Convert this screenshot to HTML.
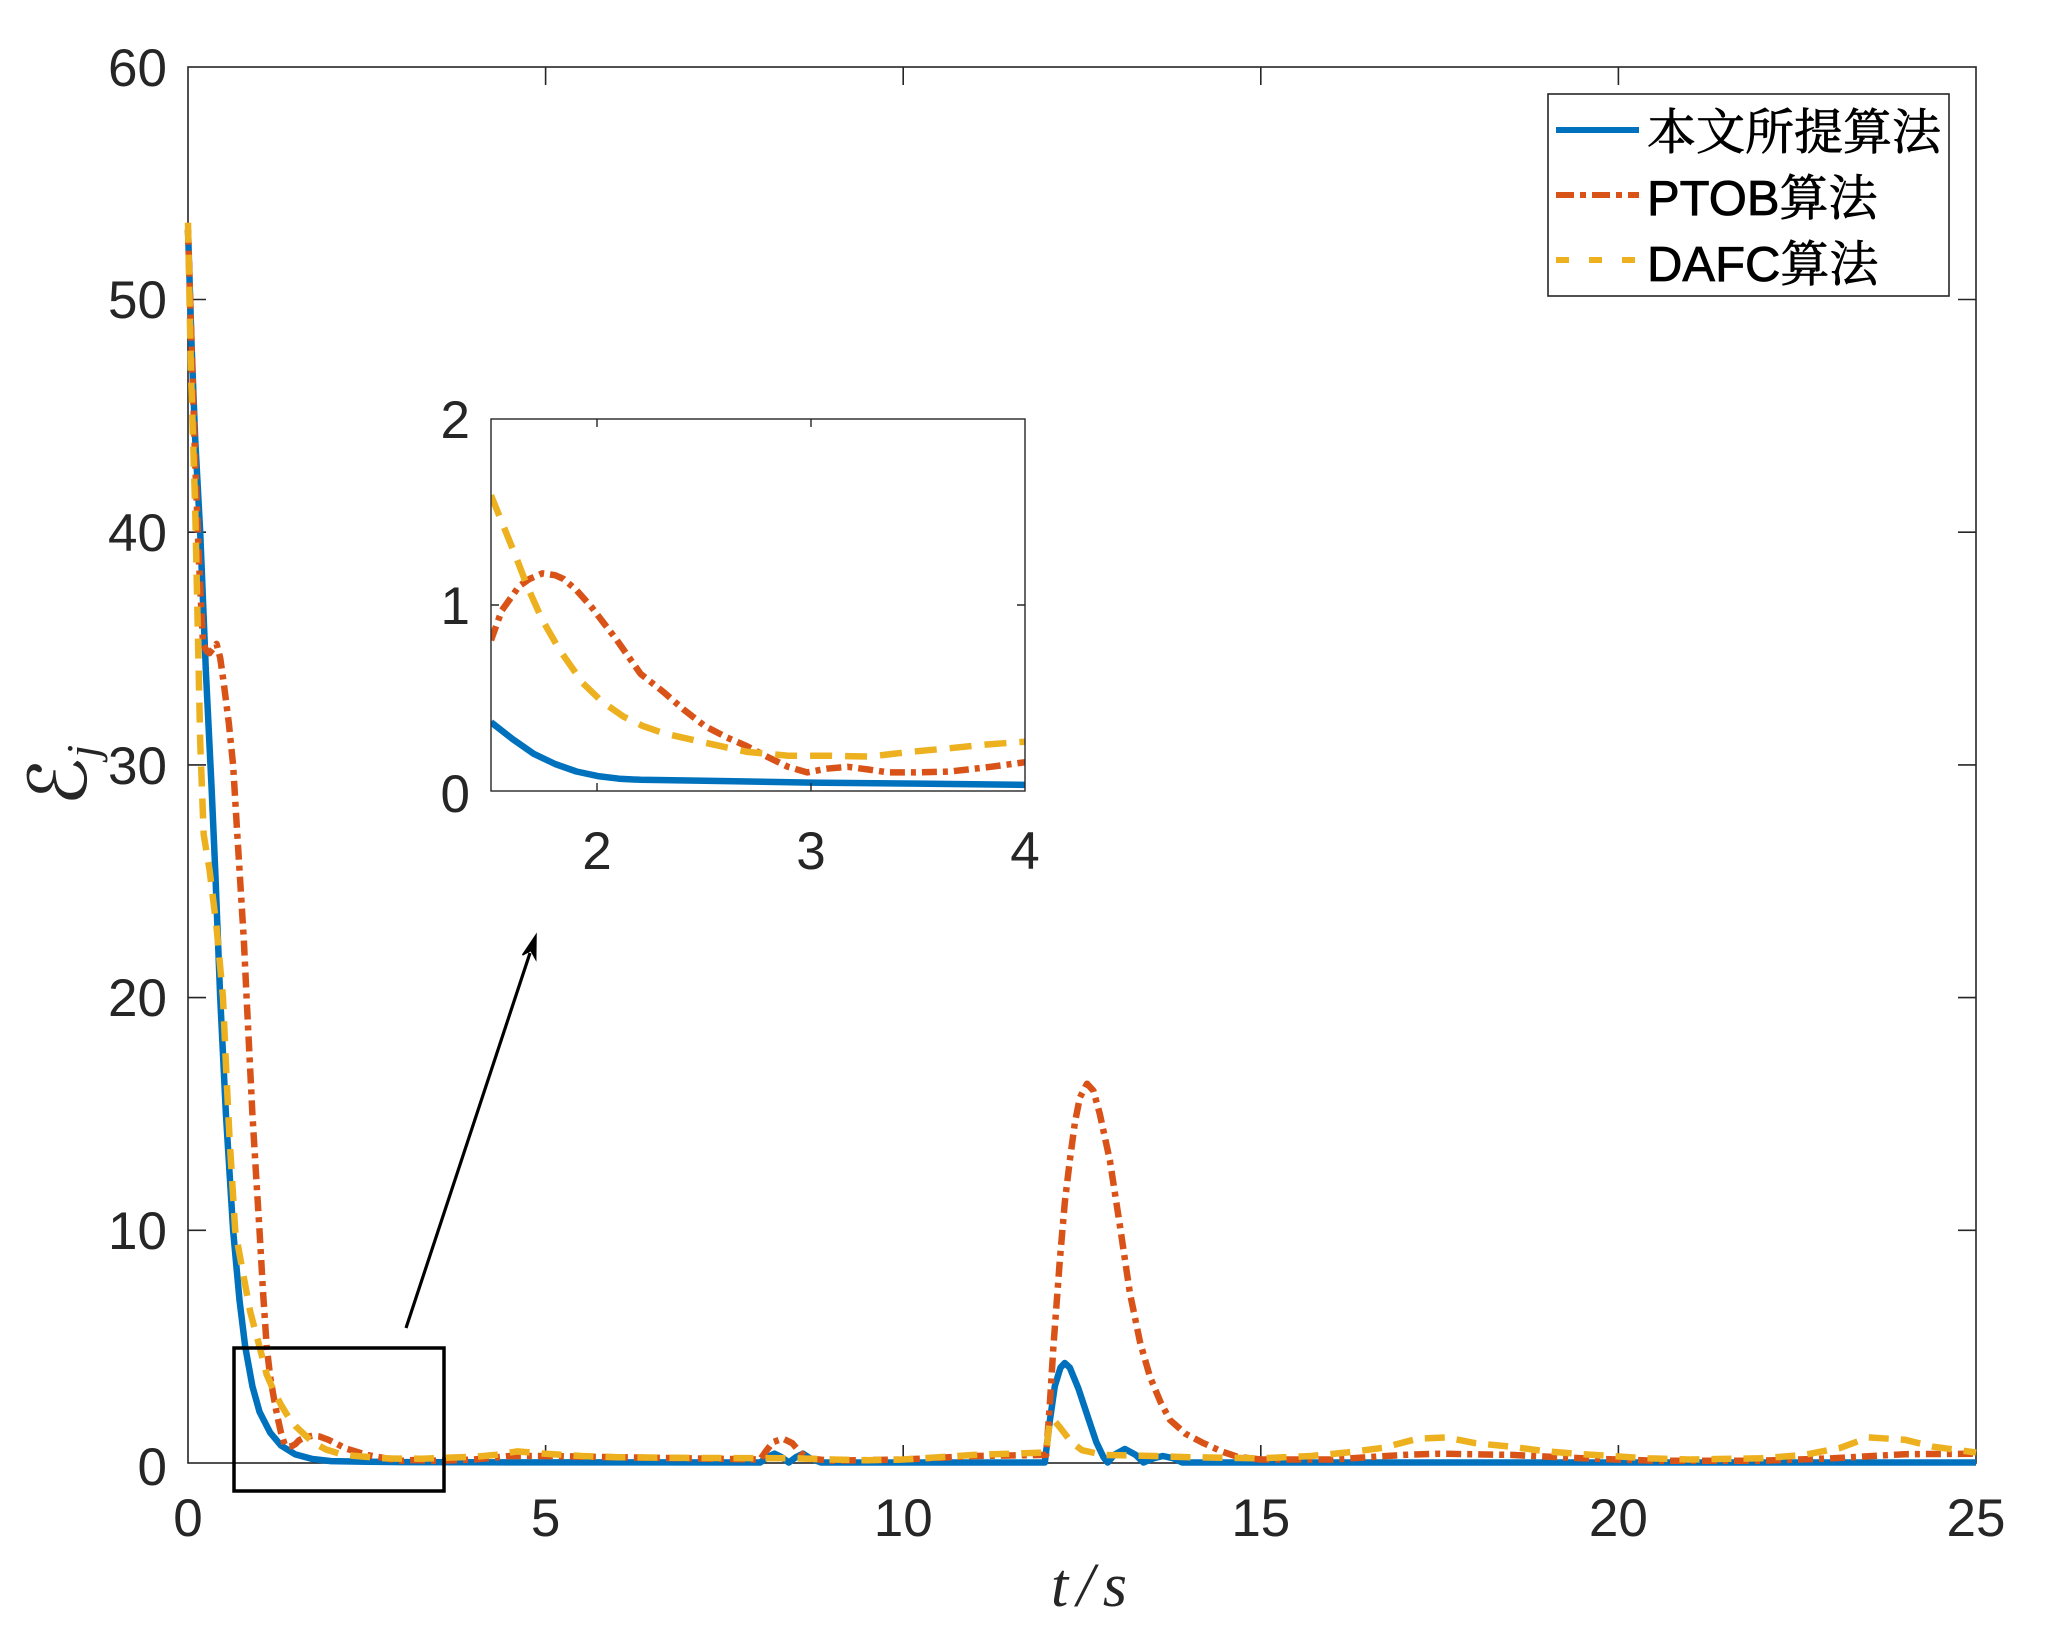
<!DOCTYPE html>
<html>
<head>
<meta charset="utf-8">
<style>
html,body{margin:0;padding:0;background:#fff;}
svg{display:block;}
</style>
</head>
<body>
<svg xmlns="http://www.w3.org/2000/svg" width="2048" height="1625" viewBox="0 0 2048 1625">
<defs>
<clipPath id="ci"><rect x="491" y="414" width="534" height="382"/></clipPath>
</defs>
<rect x="0" y="0" width="2048" height="1625" fill="#fff"/>

<!-- main axes box -->
<g stroke="#262626" stroke-width="1.6" fill="none">
<rect x="188" y="67" width="1788" height="1396"/>
<path d="M545.6,1463V1445M903.2,1463V1445M1260.8,1463V1445M1618.4,1463V1445
M545.6,67V85M903.2,67V85M1260.8,67V85M1618.4,67V85
M188,299.5H206M188,532.2H206M188,764.9H206M188,997.6H206M188,1230.3H206
M1976,299.5H1958M1976,532.2H1958M1976,764.9H1958M1976,997.6H1958M1976,1230.3H1958"/>
</g>

<!-- main tick labels -->
<g font-family="Liberation Sans, Arial, sans-serif" font-size="53" fill="#262626">
<g text-anchor="end">
<text x="167" y="86">60</text>
<text x="167" y="318">50</text>
<text x="167" y="551">40</text>
<text x="167" y="784">30</text>
<text x="167" y="1016">20</text>
<text x="167" y="1249">10</text>
<text x="167" y="1485">0</text>
</g>
<g text-anchor="middle">
<text x="188" y="1536">0</text>
<text x="545.6" y="1536">5</text>
<text x="903.2" y="1536">10</text>
<text x="1260.8" y="1536">15</text>
<text x="1618.4" y="1536">20</text>
<text x="1976" y="1536">25</text>
</g>
</g>

<!-- axis labels -->
<text transform="translate(86,806) rotate(-90)" font-family="DejaVu Sans, DejaVu Serif, serif" font-size="80" fill="#262626">ℰ<tspan font-family="Liberation Serif, serif" font-style="italic" font-size="46" dy="12">j</tspan></text>
<text x="1051" y="1606" font-family="Liberation Serif, serif" font-style="italic" font-size="62" fill="#262626" textLength="76" lengthAdjust="spacing">t/s</text>

<!-- main series -->
<g fill="none" stroke-width="6.5" stroke-linejoin="round">
<path stroke="#0072BD" d="M188,229.7 L191.6,346.0 L195.2,439.1 L200.2,532.2 L205.9,671.8 L211.6,788.2 L215.2,869.6 L220.2,997.6 L225.9,1114 L233.1,1230.3 L239.5,1300.1 L245.2,1346.6 L252.4,1386.2 L259.5,1411.8 L270.2,1432.7 L281.0,1445.5 L295.3,1454.4 L312.4,1459.0 L331.0,1461.1 L366.8,1461.8 L402.6,1462.1 L474.1,1462.3 L760.2,1462.5 L767.3,1457.2 L774.5,1453.7 L781.6,1457.2 L788.8,1462.5 L795.9,1457.2 L803.1,1453.7 L810.2,1458.3 L821.0,1462.5 L1044.8,1462.5 L1049.8,1421.1 L1054.8,1386.2 L1060.5,1367.6 L1064.8,1363.0 L1069.8,1367.6 L1078.4,1388.5 L1087.7,1416.5 L1096.3,1442.1 L1103.5,1457.2 L1107.7,1462.5 L1114.2,1454.9 L1124.9,1449.0 L1135.7,1454.9 L1143.5,1462.5 L1153.5,1458.3 L1162.8,1456.0 L1173.5,1458.3 L1182.1,1462.5 L1976,1462.5"/>
<path stroke="#D95319" stroke-dasharray="15 6 5 6" d="M188,229.7 L191.6,346.0 L195.2,462.4 L198.7,555.5 L203.0,643.9 L206.6,650.9 L209.5,653.2 L213.0,648.6 L216.6,643.9 L220.2,657.9 L223.8,683.5 L228.8,723.0 L233.1,764.9 L236.6,823.1 L240.2,881.3 L243.8,939.4 L246.6,997.6 L249.5,1055.8 L252.4,1114.0 L255.9,1172.1 L259.5,1230.3 L263.1,1293.1 L266.7,1346.6 L270.2,1376.9 L273.8,1397.8 L277.4,1416.5 L281.0,1432.7 L284.6,1444.4 L286.7,1446.7 L291.7,1446.2 L295.3,1444.2 L298.9,1440.4 L304.6,1437.4 L312.4,1435.8 L319.6,1436.5 L328.9,1440.0 L337.5,1444.2 L345.3,1448.3 L353.2,1450.7 L366.8,1454.9 L381.1,1457.4 L394.7,1460.0 L402.6,1460.7 L414.7,1460.0 L428.3,1460.7 L449.0,1460.4 L474.1,1459.5 L509.8,1456.0 L545.6,1456.0 L617.1,1457.2 L688.6,1458.3 L760.2,1459.5 L765.8,1451.4 L773.0,1442.1 L783.0,1438.6 L792.3,1443.2 L800.2,1452.5 L807.4,1458.3 L831.7,1460.7 L903.2,1459.5 L974.7,1456.0 L1046.2,1454.9 L1049.8,1404.8 L1053.4,1346.6 L1059.8,1260.6 L1064.8,1202.4 L1069.8,1160.5 L1074.8,1123.3 L1079.8,1097.7 L1087.0,1083.7 L1093.4,1090.7 L1099.8,1114.0 L1109.9,1160.5 L1119.9,1225.6 L1129.9,1293.1 L1140.0,1342.0 L1150.0,1376.9 L1160.7,1402.5 L1170.0,1420.0 L1185.7,1433.9 L1203.6,1443.2 L1221.5,1451.4 L1237.2,1456.7 L1260.8,1459.5 L1332.3,1459.5 L1403.8,1454.9 L1439.6,1453.7 L1511.1,1454.9 L1582.6,1458.3 L1654.2,1460.7 L1761.4,1460.7 L1833.0,1458.3 L1904.5,1454.2 L1976,1453.7"/>
<path stroke="#EDB120" stroke-dasharray="20 12" d="M188,222.7 L190.9,369.3 L195.2,509.0 L200.2,741.6 L203.7,834.7 L209.5,869.6 L216.6,927.8 L223.0,997.6 L226.6,1079.0 L229.5,1137.2 L235.2,1230.3 L242.4,1269.9 L250.2,1311.7 L259.5,1346.6 L266.7,1374.6 L273.8,1390.9 L281.0,1404.8 L288.1,1416.5 L295.3,1426.0 L299.6,1430.0 L307.4,1437.4 L312.4,1441.6 L318.2,1445.3 L326.0,1449.5 L339.6,1453.7 L353.2,1455.8 L366.8,1456.9 L381.1,1458.1 L394.7,1458.6 L421.9,1458.7 L449.0,1457.6 L474.1,1456.8 L495.5,1454.9 L517.0,1451.4 L545.6,1453.7 L581.4,1456.0 L617.1,1457.2 L688.6,1457.9 L795.9,1458.3 L831.7,1459.5 L867.4,1460.2 L903.2,1459.5 L939.0,1457.2 L974.7,1454.9 L1010.5,1453.7 L1046.2,1452.5 L1049.8,1420.0 L1054.8,1421.1 L1060.5,1428.1 L1071.3,1442.1 L1082.0,1450.2 L1103.5,1454.9 L1153.5,1456.0 L1189.3,1457.2 L1260.8,1458.3 L1310.9,1456.0 L1346.6,1452.5 L1382.4,1447.9 L1418.1,1438.6 L1446.8,1437.4 L1475.4,1443.2 L1511.1,1446.7 L1546.9,1451.4 L1575.5,1453.7 L1611.2,1456.0 L1647.0,1458.3 L1689.9,1459.5 L1761.4,1458.3 L1804.4,1454.9 L1840.1,1447.9 L1868.7,1437.4 L1904.5,1439.7 L1933.1,1446.7 L1976,1452.5"/>
</g>

<!-- zoom rectangle and arrow -->
<rect x="234" y="1348" width="210" height="143" fill="none" stroke="#000" stroke-width="3.5"/>
<line x1="406" y1="1328" x2="530" y2="953" stroke="#000" stroke-width="3.2"/>
<polygon points="536,935 522.5,955 531,950.5 535.7,959" fill="#000" stroke="#000" stroke-width="1.5"/>

<!-- inset -->
<rect x="491" y="419" width="534" height="372" fill="#fff"/>
<g clip-path="url(#ci)" fill="none" stroke-width="6.5" stroke-linejoin="round">
<path stroke="#0072BD" d="M491,722.2 L512.4,738.9 L533.7,753.8 L555.1,764.0 L576.4,771.5 L597.8,776.1 L619.2,778.7 L640.5,779.8 L704.6,780.8 L811.4,782.6 L918.2,783.6 L1025,784.9"/>
<path stroke="#D95319" stroke-dasharray="15 6 5 6" d="M491,640.3 L501.7,610.6 L512.4,595.7 L518.8,586.4 L529.4,579.0 L542.3,573.4 L555.1,575.2 L563.6,579.0 L576.4,590.1 L591.4,606.9 L604.2,623.6 L617.0,640.3 L640.5,673.8 L664.0,692.4 L683.2,709.2 L704.6,725.9 L726.0,737.1 L747.3,746.4 L768.7,757.5 L787.9,766.8 L807.1,772.4 L826.4,768.7 L847.7,766.8 L869.1,769.6 L888.3,772.4 L918.2,772.4 L950.2,771.5 L990.8,766.8 L1025,762.2"/>
<path stroke="#EDB120" stroke-dasharray="22 13" d="M491,495.3 L503.8,526.9 L516.6,558.5 L527.3,586.4 L542.3,619.9 L559.4,649.6 L582.8,683.1 L602.1,701.7 L623.4,716.6 L642.7,725.9 L664.0,733.3 L704.6,742.6 L747.3,751.9 L787.9,755.7 L828.5,755.7 L869.1,756.6 L909.7,751.9 L950.2,748.2 L986.6,744.5 L1025,741.7"/>
</g>
<g stroke="#262626" stroke-width="1.4" fill="none">
<rect x="491" y="419" width="534" height="372"/>
<path d="M597,791V783M811,791V783M597,419V427M811,419V427M491,605H499M1025,605H1017"/>
</g>
<g font-family="Liberation Sans, Arial, sans-serif" font-size="53" fill="#262626">
<g text-anchor="end">
<text x="470" y="438">2</text>
<text x="470" y="624">1</text>
<text x="470" y="812">0</text>
</g>
<g text-anchor="middle">
<text x="597" y="869">2</text>
<text x="811" y="869">3</text>
<text x="1025" y="869">4</text>
</g>
</g>

<!-- legend -->
<rect x="1548" y="94" width="401" height="202" fill="#fff" stroke="#262626" stroke-width="1.6"/>
<line x1="1556" y1="130" x2="1639" y2="130" stroke="#0072BD" stroke-width="6"/>
<line x1="1556" y1="195" x2="1639" y2="195" stroke="#D95319" stroke-width="6" stroke-dasharray="18 6 6 6"/>
<line x1="1556" y1="260" x2="1639" y2="260" stroke="#EDB120" stroke-width="6" stroke-dasharray="13 20"/>
<g font-size="49" fill="#000" stroke="#000" stroke-width="0.8">
<text x="1647" y="149" font-family="Liberation Serif, 'Noto Serif CJK SC', serif">本文所提算法</text>
<text x="1647" y="215" font-family="Liberation Sans, 'Noto Serif CJK SC', sans-serif">PTOB<tspan font-family="'Noto Serif CJK SC', serif">算法</tspan></text>
<text x="1647" y="281" font-family="Liberation Sans, 'Noto Serif CJK SC', sans-serif">DAFC<tspan font-family="'Noto Serif CJK SC', serif">算法</tspan></text>
</g>
</svg>
</body>
</html>
